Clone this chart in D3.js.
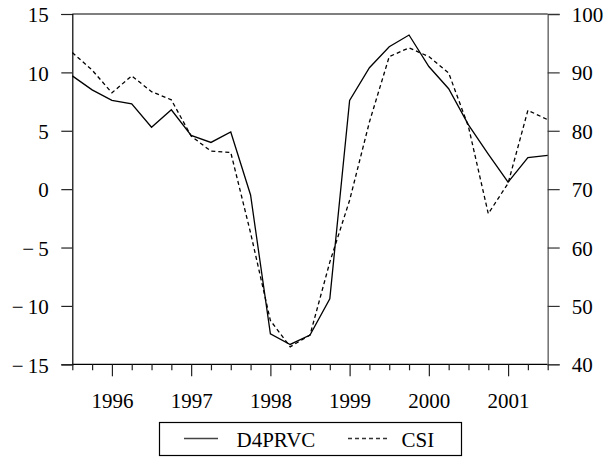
<!DOCTYPE html>
<html><head><meta charset="utf-8">
<script src="https://cdn.jsdelivr.net/npm/d3@7/dist/d3.min.js"></script>
<style>
html,body{margin:0;padding:0;background:#fff;}
svg{display:block;}
svg text{font-family:"Liberation Serif","DejaVu Serif","Times New Roman",serif !important;font-size:21px;fill:#000;}
</style></head>
<body>
<svg id="chart" width="606" height="458"></svg>
<script>
// Quarterly periods 1995Q3 .. 2001Q3
const periods = ["1995Q3","1995Q4","1996Q1","1996Q2","1996Q3","1996Q4","1997Q1","1997Q2","1997Q3","1997Q4",
  "1998Q1","1998Q2","1998Q3","1998Q4","1999Q1","1999Q2","1999Q3","1999Q4","2000Q1","2000Q2","2000Q3","2000Q4",
  "2001Q1","2001Q2","2001Q3"];
const d4prvc = [9.7, 8.5, 7.6, 7.3, 5.3, 6.8, 4.6, 4.0, 4.9, -0.5, -12.4, -13.3, -12.5, -9.4, 7.6, 10.4, 12.2, 13.2, 10.5, 8.6, 5.5, 3.0, 0.6, 2.7, 2.9];
const csi    = [93.4, 90.4, 86.5, 89.4, 86.7, 85.3, 79.1, 76.5, 76.3, 62.5, 47.5, 43.0, 45.0, 57.5, 68.1, 81.5, 92.7, 94.2, 92.7, 89.9, 80.7, 65.8, 71.0, 83.5, 81.9];
const leftTicks = [-15, -10, -5, 0, 5, 10, 15];
const rightTicks = [40, 50, 60, 70, 80, 90, 100];
const seriesNames = ["D4PRVC", "CSI"];

const FONT = "'Liberation Serif', 'DejaVu Serif', 'Times New Roman', serif";
const svg = d3.select("#chart");
const L = 72.3, R = 547.7, T = 14, B = 364.3;
const x = d3.scaleLinear().domain([0, periods.length - 1]).range([L, R]);
const yL = d3.scaleLinear().domain([-15, 15]).range([B, T]);
const yR = d3.scaleLinear().domain([40, 100]).range([B, T]);

// frame: top and bottom
svg.append("line").attr("x1", L).attr("x2", R).attr("y1", T).attr("y2", T).attr("stroke", "#000").attr("stroke-width", 1.2);
svg.append("line").attr("x1", L).attr("x2", R).attr("y1", B).attr("y2", B).attr("stroke", "#000").attr("stroke-width", 1.2);

// left axis
const gl = svg.append("g").attr("transform", `translate(${L},0)`)
  .call(d3.axisLeft(yL).tickValues(leftTicks).tickSize(11).tickPadding(0)
    .tickFormat(d => d < 0 ? "\u2212\u2009" + Math.abs(d) : String(d)));
gl.attr("font-family", FONT).attr("font-size", 21);
gl.select(".domain").attr("stroke", "#000").attr("stroke-width", 1.2);
gl.selectAll(".tick line").attr("stroke", "#222").attr("stroke-width", 1.2);
gl.selectAll(".tick text").attr("x", -23.5).attr("dy", null).attr("y", 7.8).attr("fill", "#000");

// right axis
const gr = svg.append("g").attr("transform", `translate(${R},0)`)
  .call(d3.axisRight(yR).tickValues(rightTicks).tickSize(12).tickPadding(0).tickFormat(d => String(d)));
gr.attr("font-family", FONT).attr("font-size", 21);
gr.select(".domain").attr("stroke", "#777").attr("stroke-width", 1.6);
gr.selectAll(".tick line").attr("stroke", "#333").attr("stroke-width", 1.2);
gr.selectAll(".tick text").attr("x", 24).attr("dy", null).attr("y", 7.5).attr("fill", "#000");

// bottom axis: quarterly minor ticks, yearly major ticks at Q1
const majorIdx = periods.map((p, i) => p.endsWith("Q1") ? i : -1).filter(i => i >= 0);
const minorIdx = periods.map((p, i) => i).filter(i => !periods[i].endsWith("Q1"));
const gbMinor = svg.append("g").attr("transform", `translate(0,${B})`)
  .call(d3.axisBottom(x).tickValues(minorIdx).tickSize(6).tickFormat(""));
gbMinor.select(".domain").remove();
gbMinor.selectAll(".tick line").attr("stroke", "#222").attr("stroke-width", 1.2);
const gbMajor = svg.append("g").attr("transform", `translate(0,${B})`)
  .call(d3.axisBottom(x).tickValues(majorIdx).tickSize(12).tickPadding(0)
    .tickFormat(i => periods[i].slice(0, 4)));
gbMajor.attr("font-family", FONT).attr("font-size", 21);
gbMajor.select(".domain").remove();
gbMajor.selectAll(".tick line").attr("stroke", "#222").attr("stroke-width", 1.2);
gbMajor.selectAll(".tick text").attr("dy", null).attr("y", 43.5).attr("fill", "#000");

// series lines
const lineL = d3.line().x((d, i) => x(i)).y(d => yL(d));
const lineR = d3.line().x((d, i) => x(i)).y(d => yR(d));
svg.append("path").datum(d4prvc).attr("d", lineL)
  .attr("fill", "none").attr("stroke", "#000").attr("stroke-width", 1.3);
svg.append("path").datum(csi).attr("d", lineR)
  .attr("fill", "none").attr("stroke", "#000").attr("stroke-width", 1.3).attr("stroke-dasharray", "4,3");

// legend
const lg = svg.append("g").attr("font-family", FONT).attr("font-size", 21);
lg.append("rect").attr("x", 159.5).attr("y", 422.5).attr("width", 302).attr("height", 33)
  .attr("fill", "#fff").attr("stroke", "#000").attr("stroke-width", 1.2);
lg.append("line").attr("x1", 184).attr("x2", 218).attr("y1", 438.5).attr("y2", 438.5)
  .attr("stroke", "#444").attr("stroke-width", 1.5);
lg.append("text").attr("x", 236.5).attr("y", 447).text(seriesNames[0]);
lg.append("line").attr("x1", 348).attr("x2", 390).attr("y1", 438.5).attr("y2", 438.5)
  .attr("stroke", "#333").attr("stroke-width", 1.3).attr("stroke-dasharray", "4,3");
lg.append("text").attr("x", 401.5).attr("y", 447).text(seriesNames[1]);
</script>
</body></html>
